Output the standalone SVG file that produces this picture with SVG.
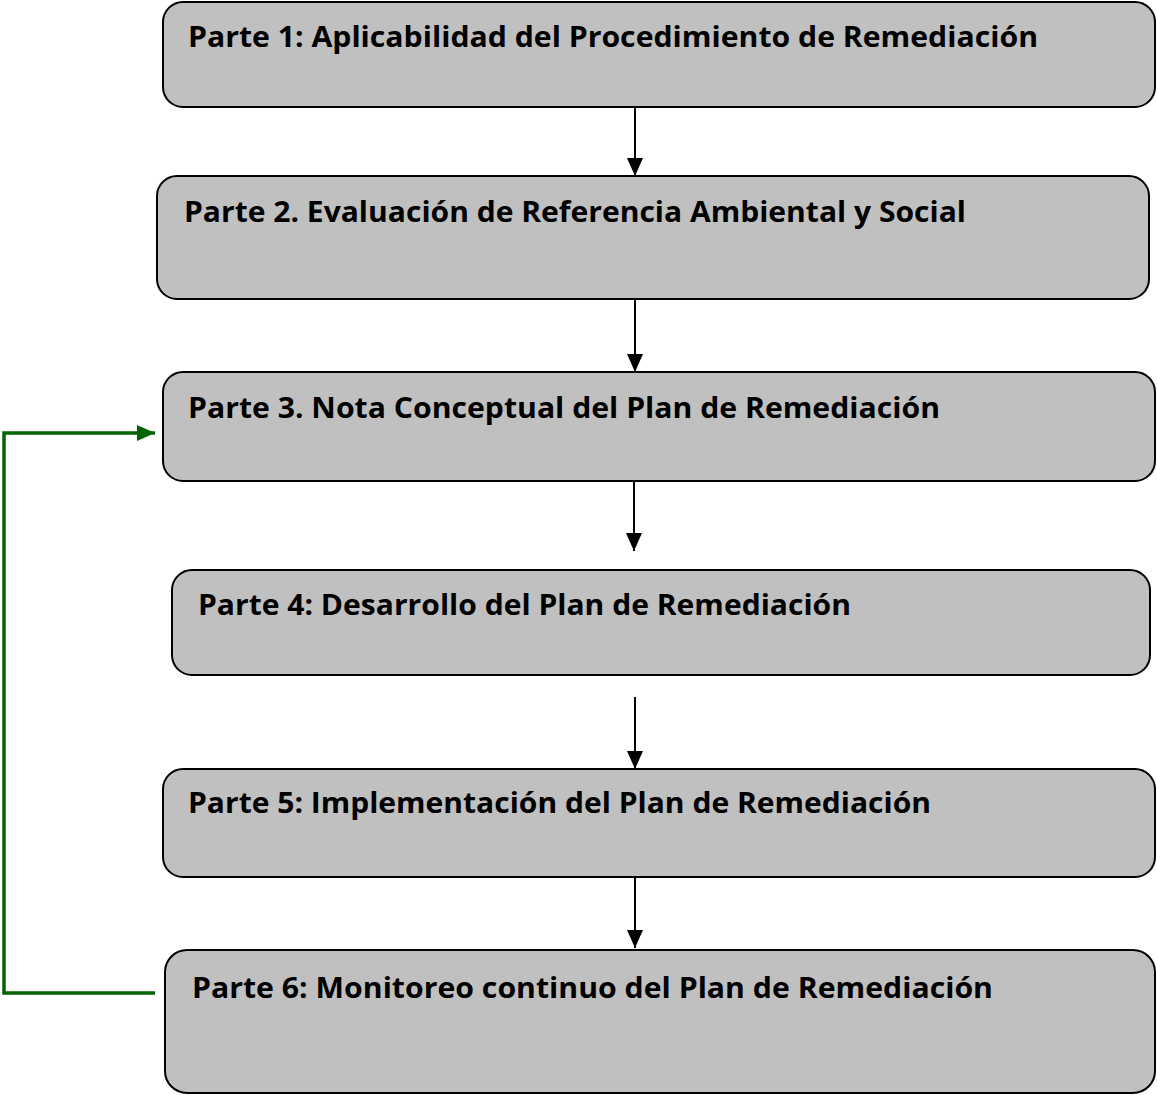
<svg xmlns="http://www.w3.org/2000/svg" width="1157" height="1095" viewBox="0 0 1157 1095">
<style>
.box{fill:#c0c0c0;stroke:#000;stroke-width:2}
.lbl{font-family:"Open Sans","Noto Sans","DejaVu Sans",sans-serif;font-weight:bold;font-size:29px;fill:#000}
.arr{stroke:#000;stroke-width:2;fill:none;marker-end:url(#ab)}
.fb{stroke:#006400;stroke-width:3.5;fill:none;marker-end:url(#ag)}
</style>
<defs>
<marker id="ab" markerWidth="18" markerHeight="16" refX="18" refY="8" orient="auto" markerUnits="userSpaceOnUse"><path d="M0,0 L18,8 L0,16 Z" fill="#000"/></marker>
<marker id="ag" markerWidth="18" markerHeight="16" refX="18" refY="8" orient="auto" markerUnits="userSpaceOnUse"><path d="M0,0 L18,8 L0,16 Z" fill="#006400"/></marker>
</defs>
<rect width="1157" height="1095" fill="#fff"/>
<g id="connectors">
<line class="arr" x1="635" y1="107" x2="635" y2="176"/>
<line class="arr" x1="635" y1="299" x2="635" y2="372"/>
<line class="arr" x1="634" y1="481" x2="634" y2="551"/>
<line class="arr" x1="635" y1="697" x2="635" y2="769"/>
<line class="arr" x1="635" y1="877" x2="635" y2="948"/>
<path class="fb" d="M155,993 L4,993 L4,433 L155,433"/>
</g>
<g id="n1"><rect class="box" x="163" y="2" width="992" height="105" rx="20"/><text class="lbl" x="188" y="47" textLength="850" lengthAdjust="spacingAndGlyphs">Parte 1: Aplicabilidad del Procedimiento de Remediación</text></g>
<g id="n2"><rect class="box" x="157" y="176" width="992" height="123" rx="20"/><text class="lbl" x="184" y="222" textLength="782" lengthAdjust="spacingAndGlyphs">Parte 2. Evaluación de Referencia Ambiental y Social</text></g>
<g id="n3"><rect class="box" x="163" y="372" width="992" height="109" rx="20"/><text class="lbl" x="188" y="418" textLength="752" lengthAdjust="spacingAndGlyphs">Parte 3. Nota Conceptual del Plan de Remediación</text></g>
<g id="n4"><rect class="box" x="172" y="570" width="978" height="105" rx="20"/><text class="lbl" x="198" y="615" textLength="653" lengthAdjust="spacingAndGlyphs">Parte 4: Desarrollo del Plan de Remediación</text></g>
<g id="n5"><rect class="box" x="163" y="769" width="992" height="108" rx="20"/><text class="lbl" x="188" y="813" textLength="743" lengthAdjust="spacingAndGlyphs">Parte 5: Implementación del Plan de Remediación</text></g>
<g id="n6"><rect class="box" x="165" y="950" width="990" height="143" rx="22"/><text class="lbl" x="192" y="998" textLength="801" lengthAdjust="spacingAndGlyphs">Parte 6: Monitoreo continuo del Plan de Remediación</text></g>
</svg>
